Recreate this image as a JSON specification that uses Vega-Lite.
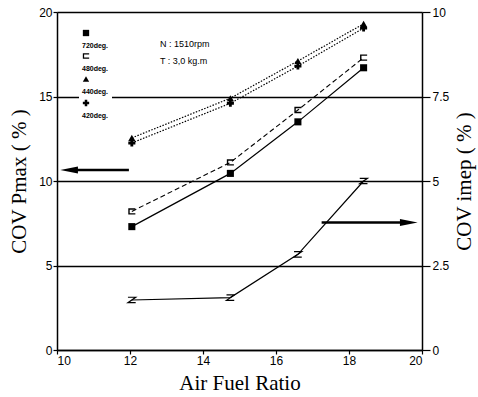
{
  "$schema": "https://vega.github.io/schema/vega-lite/v6.json",
  "width": 365,
  "height": 338,
  "autosize": {"type": "none"},
  "padding": {"left": 57, "top": 12, "right": 56, "bottom": 47},
  "background": "white",
  "config": {
    "view": {"stroke": null},
    "font": "Liberation Sans",
    "axis": {
      "domainColor": "black", "domainWidth": 1.5, "tickColor": "black", "tickWidth": 1.2,
      "labelColor": "black", "labelFont": "Liberation Sans", "labelFontSize": 12,
      "titleFont": "Liberation Serif", "titleFontWeight": "normal", "titleFontSize": 21, "titleColor": "black"
    }
  },
  "datasets": {
    "pmax": [
      {"angle": "720deg.", "afr": 12.05, "value": 7.3},
      {"angle": "720deg.", "afr": 14.75, "value": 10.45},
      {"angle": "720deg.", "afr": 16.6, "value": 13.5},
      {"angle": "720deg.", "afr": 18.4, "value": 16.7},
      {"angle": "480deg.", "afr": 12.05, "value": 8.2},
      {"angle": "480deg.", "afr": 14.75, "value": 11.1},
      {"angle": "480deg.", "afr": 16.6, "value": 14.2},
      {"angle": "480deg.", "afr": 18.4, "value": 17.3},
      {"angle": "440deg.", "afr": 12.05, "value": 12.55},
      {"angle": "440deg.", "afr": 14.75, "value": 14.9},
      {"angle": "440deg.", "afr": 16.6, "value": 17.1},
      {"angle": "440deg.", "afr": 18.4, "value": 19.3},
      {"angle": "420deg.", "afr": 12.05, "value": 12.25},
      {"angle": "420deg.", "afr": 14.75, "value": 14.6},
      {"angle": "420deg.", "afr": 16.6, "value": 16.8},
      {"angle": "420deg.", "afr": 18.4, "value": 19.05}
    ],
    "imep": [
      {"afr": 12.05, "value": 1.48},
      {"afr": 14.75, "value": 1.55},
      {"afr": 16.6, "value": 2.83},
      {"afr": 18.4, "value": 5.0}
    ]
  },
  "layer": [
    {
      "layer": [
        {
          "data": {"name": "pmax"},
          "transform": [{"filter": "datum.angle === '720deg.'"}],
          "mark": {"type": "line", "color": "black", "strokeWidth": 1.2},
          "encoding": {
            "x": {
              "field": "afr", "type": "quantitative",
              "scale": {"domain": [10, 20]},
              "axis": {"values": [10, 12, 14, 16, 18, 20], "tickSize": 4, "labelPadding": 1, "title": "Air Fuel Ratio", "titlePadding": 6, "grid": false}
            },
            "y": {
              "field": "value", "type": "quantitative",
              "scale": {"domain": [0, 20]},
              "axis": {"orient": "left", "values": [0, 5, 10, 15, 20], "grid": true, "gridColor": "black", "gridWidth": 1.6, "gridOpacity": 1, "tickSize": 4, "labelPadding": 1, "title": "COV Pmax ( % )", "titlePadding": 9}
            }
          }
        },
        {
          "data": {"name": "pmax"},
          "transform": [{"filter": "datum.angle === '480deg.'"}],
          "mark": {"type": "line", "color": "black", "strokeWidth": 1.1, "strokeDash": [5, 3]},
          "encoding": {
            "x": {"field": "afr", "type": "quantitative"},
            "y": {"field": "value", "type": "quantitative"}
          }
        },
        {
          "data": {"name": "pmax"},
          "transform": [{"filter": "datum.angle === '440deg.' || datum.angle === '420deg.'"}],
          "mark": {"type": "line", "color": "black", "strokeWidth": 1.2, "strokeDash": [1.5, 1.5]},
          "encoding": {
            "x": {"field": "afr", "type": "quantitative"},
            "y": {"field": "value", "type": "quantitative"},
            "detail": {"field": "angle", "type": "nominal"}
          }
        },
        {
          "data": {"name": "pmax"},
          "mark": {"type": "point", "filled": true, "color": "black", "size": 50, "opacity": 1},
          "encoding": {
            "x": {"field": "afr", "type": "quantitative"},
            "y": {"field": "value", "type": "quantitative"},
            "shape": {
              "field": "angle", "type": "nominal",
              "scale": {"domain": ["720deg.", "480deg.", "440deg.", "420deg."], "range": ["square", "M-1,-0.9H1V-0.5H-1Z M-1,0.5H1V0.9H-1Z M-1,-0.9H-0.6V0.9H-1Z", "triangle-up", "cross"]},
              "legend": {
                "title": null, "orient": "none", "legendX": 22, "legendY": 14,
                "fillColor": "white", "padding": 3, "labelFontSize": 7, "labelFontWeight": "bold",
                "labelFont": "Liberation Sans", "labelColor": "black", "symbolSize": 40,
                "symbolFillColor": "black", "symbolStrokeColor": "black",
                "labelBaseline": "top", "labelOffset": -8, "rowPadding": 1,
                "labelExpr": "['', datum.label]"
              }
            }
          }
        },
        {
          "data": {"values": [{"note": "arrow"}]},
          "mark": {"type": "rule", "color": "black", "strokeWidth": 2.5},
          "encoding": {"x": {"datum": 10.4}, "x2": {"datum": 11.97}, "y": {"datum": 10.65}}
        },
        {
          "data": {"values": [{"note": "arrow"}]},
          "mark": {"type": "point", "shape": "M-1.5,0L1,-0.5L1,0.5Z", "filled": true, "color": "black", "size": 200, "opacity": 1},
          "encoding": {"x": {"datum": 10.38}, "y": {"datum": 10.65}}
        },
        {
          "data": {"values": [{"note": "conditions"}]},
          "mark": {"type": "text", "align": "left", "baseline": "middle", "fontSize": 9, "font": "Liberation Sans", "color": "black", "lineHeight": 17, "text": ["N : 1510rpm", "T : 3,0 kg.m"]},
          "encoding": {"x": {"datum": 12.82}, "y": {"datum": 18.12}}
        }
      ]
    },
    {
      "layer": [
        {
          "data": {"name": "imep"},
          "mark": {"type": "line", "color": "black", "strokeWidth": 1.2},
          "encoding": {
            "x": {"field": "afr", "type": "quantitative"},
            "y": {
              "field": "value", "type": "quantitative",
              "scale": {"domain": [0, 10]},
              "axis": {"orient": "right", "values": [0, 2.5, 5, 7.5, 10], "labelExpr": "format(datum.value, '~g')", "grid": false, "tickSize": 8, "labelPadding": 2, "title": "COV imep ( % )", "titleAngle": 270, "titlePadding": 26}
            }
          }
        },
        {
          "data": {"name": "imep"},
          "mark": {"type": "point", "shape": "M-1,-0.7H1L-1,0.7H1", "filled": false, "color": "black", "size": 60, "strokeWidth": 1.2, "opacity": 1},
          "encoding": {"x": {"field": "afr", "type": "quantitative"}, "y": {"field": "value", "type": "quantitative"}}
        },
        {
          "data": {"values": [{"note": "arrow"}]},
          "mark": {"type": "rule", "color": "black", "strokeWidth": 2.5},
          "encoding": {"x": {"datum": 17.25}, "x2": {"datum": 19.6}, "y": {"datum": 3.77}}
        },
        {
          "data": {"values": [{"note": "arrow"}]},
          "mark": {"type": "point", "shape": "M1.5,0L-1,-0.5L-1,0.5Z", "filled": true, "color": "black", "size": 200, "opacity": 1},
          "encoding": {"x": {"datum": 19.59}, "y": {"datum": 3.77}}
        }
      ]
    }
  ],
  "resolve": {"scale": {"y": "independent"}, "axis": {"y": "independent"}}
}
